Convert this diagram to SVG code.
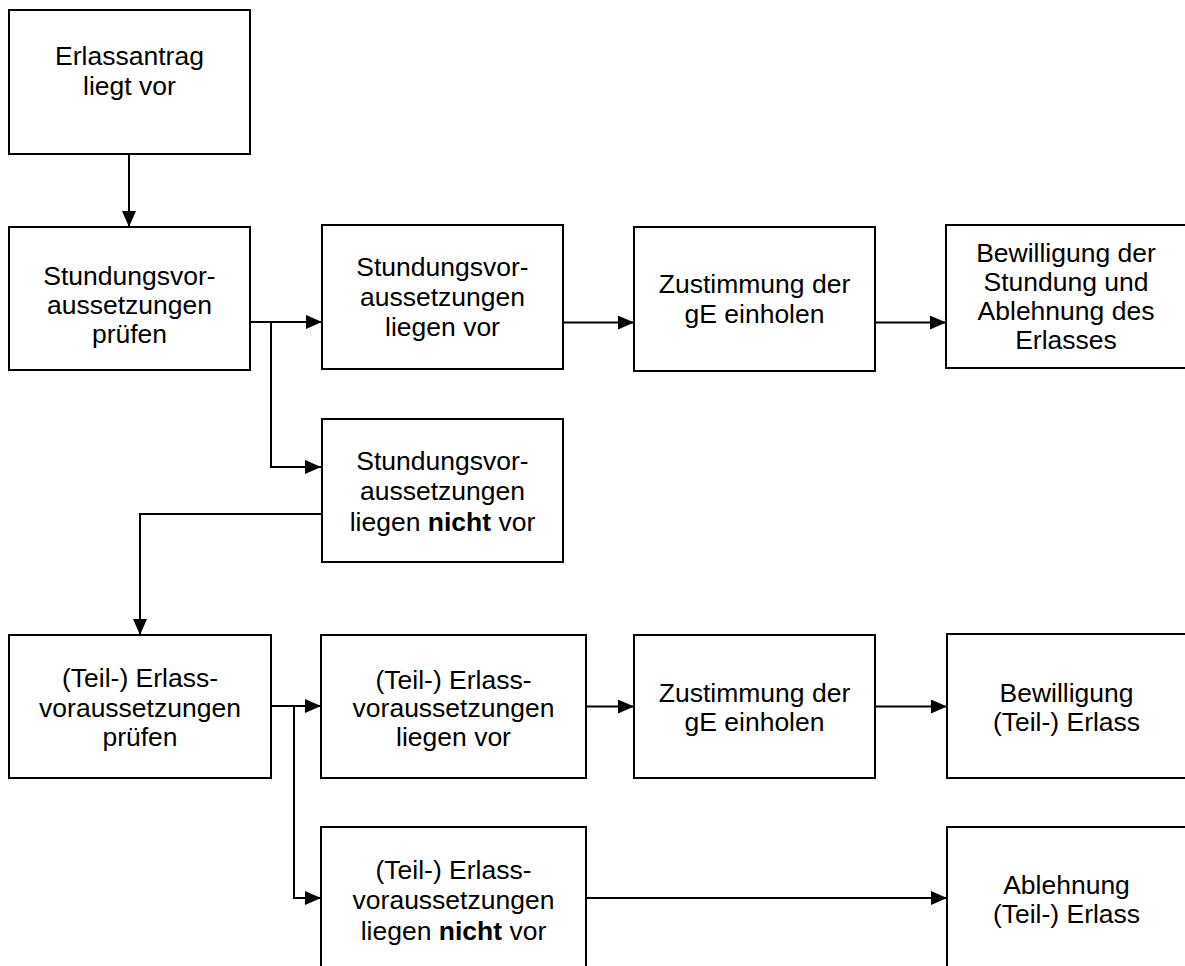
<svg xmlns="http://www.w3.org/2000/svg" width="1185" height="966" viewBox="0 0 1185 966">
<style>
.box{fill:#fff;stroke:#000;stroke-width:2}
.t{font-family:"Liberation Sans",Arial,sans-serif;font-size:26.5px;fill:#000;text-anchor:middle}
.b{font-weight:bold}
.c{fill:none;stroke:#000;stroke-width:2}
</style>
<defs>
<marker id="arr" markerWidth="16" markerHeight="14" refX="16" refY="7" orient="auto" markerUnits="userSpaceOnUse">
<path d="M0,0 L16,7 L0,14 Z" fill="#000"/>
</marker>
</defs>
<rect width="1185" height="966" fill="#fff"/>
<g id="connectors">
<path class="c" d="M129,154 V227" marker-end="url(#arr)"/>
<path class="c" d="M250,322 H322" marker-end="url(#arr)"/>
<path class="c" d="M271,322 V467 H321" marker-end="url(#arr)"/>
<path class="c" d="M563,322.5 H634" marker-end="url(#arr)"/>
<path class="c" d="M875,322.5 H946" marker-end="url(#arr)"/>
<path class="c" d="M322,514 H140 V635" marker-end="url(#arr)"/>
<path class="c" d="M271,706 H321" marker-end="url(#arr)"/>
<path class="c" d="M294,706 V898 H321" marker-end="url(#arr)"/>
<path class="c" d="M586,706.5 H634" marker-end="url(#arr)"/>
<path class="c" d="M875,706.5 H947" marker-end="url(#arr)"/>
<path class="c" d="M586,898 H947" marker-end="url(#arr)"/>
</g>
<g id="n1">
<rect class="box" x="9" y="10" width="241" height="144"/>
<text class="t" x="129.5" y="65">Erlassantrag</text>
<text class="t" x="129.5" y="95">liegt vor</text>
</g>
<g id="n2">
<rect class="box" x="9" y="227" width="241" height="143"/>
<text class="t" x="129.5" y="285">Stundungsvor-</text>
<text class="t" x="129.5" y="314">aussetzungen</text>
<text class="t" x="129.5" y="343">prüfen</text>
</g>
<g id="n3">
<rect class="box" x="322" y="225" width="241" height="144"/>
<text class="t" x="442.5" y="276">Stundungsvor-</text>
<text class="t" x="442.5" y="306">aussetzungen</text>
<text class="t" x="442.5" y="336">liegen vor</text>
</g>
<g id="n4">
<rect class="box" x="634" y="227" width="241" height="144"/>
<text class="t" x="754.5" y="293">Zustimmung der</text>
<text class="t" x="754.5" y="323">gE einholen</text>
</g>
<g id="n5">
<rect class="box" x="946" y="225" width="240" height="143"/>
<text class="t" x="1066" y="262">Bewilligung der</text>
<text class="t" x="1066" y="291">Stundung und</text>
<text class="t" x="1066" y="320">Ablehnung des</text>
<text class="t" x="1066" y="349">Erlasses</text>
</g>
<g id="n6">
<rect class="box" x="322" y="419" width="241" height="143"/>
<text class="t" x="442.5" y="470">Stundungsvor-</text>
<text class="t" x="442.5" y="500">aussetzungen</text>
<text class="t" x="442.5" y="531">liegen <tspan class="b">nicht</tspan> vor</text>
</g>
<g id="n7">
<rect class="box" x="9" y="635" width="262" height="143"/>
<text class="t" x="140" y="687">(Teil-) Erlass-</text>
<text class="t" x="140" y="717">voraussetzungen</text>
<text class="t" x="140" y="746">prüfen</text>
</g>
<g id="n8">
<rect class="box" x="321" y="635" width="265" height="143"/>
<text class="t" x="453.5" y="689">(Teil-) Erlass-</text>
<text class="t" x="453.5" y="717">voraussetzungen</text>
<text class="t" x="453.5" y="746">liegen vor</text>
</g>
<g id="n9">
<rect class="box" x="634" y="635" width="241" height="143"/>
<text class="t" x="754.5" y="702">Zustimmung der</text>
<text class="t" x="754.5" y="731">gE einholen</text>
</g>
<g id="n10">
<rect class="box" x="947" y="634" width="240" height="144"/>
<text class="t" x="1066.5" y="702">Bewilligung</text>
<text class="t" x="1066.5" y="731">(Teil-) Erlass</text>
</g>
<g id="n11">
<rect class="box" x="321" y="827" width="265" height="150"/>
<text class="t" x="453.5" y="879">(Teil-) Erlass-</text>
<text class="t" x="453.5" y="909">voraussetzungen</text>
<text class="t" x="453.5" y="940">liegen <tspan class="b">nicht</tspan> vor</text>
</g>
<g id="n12">
<rect class="box" x="947" y="827" width="240" height="150"/>
<text class="t" x="1066.5" y="894">Ablehnung</text>
<text class="t" x="1066.5" y="923">(Teil-) Erlass</text>
</g>
</svg>
